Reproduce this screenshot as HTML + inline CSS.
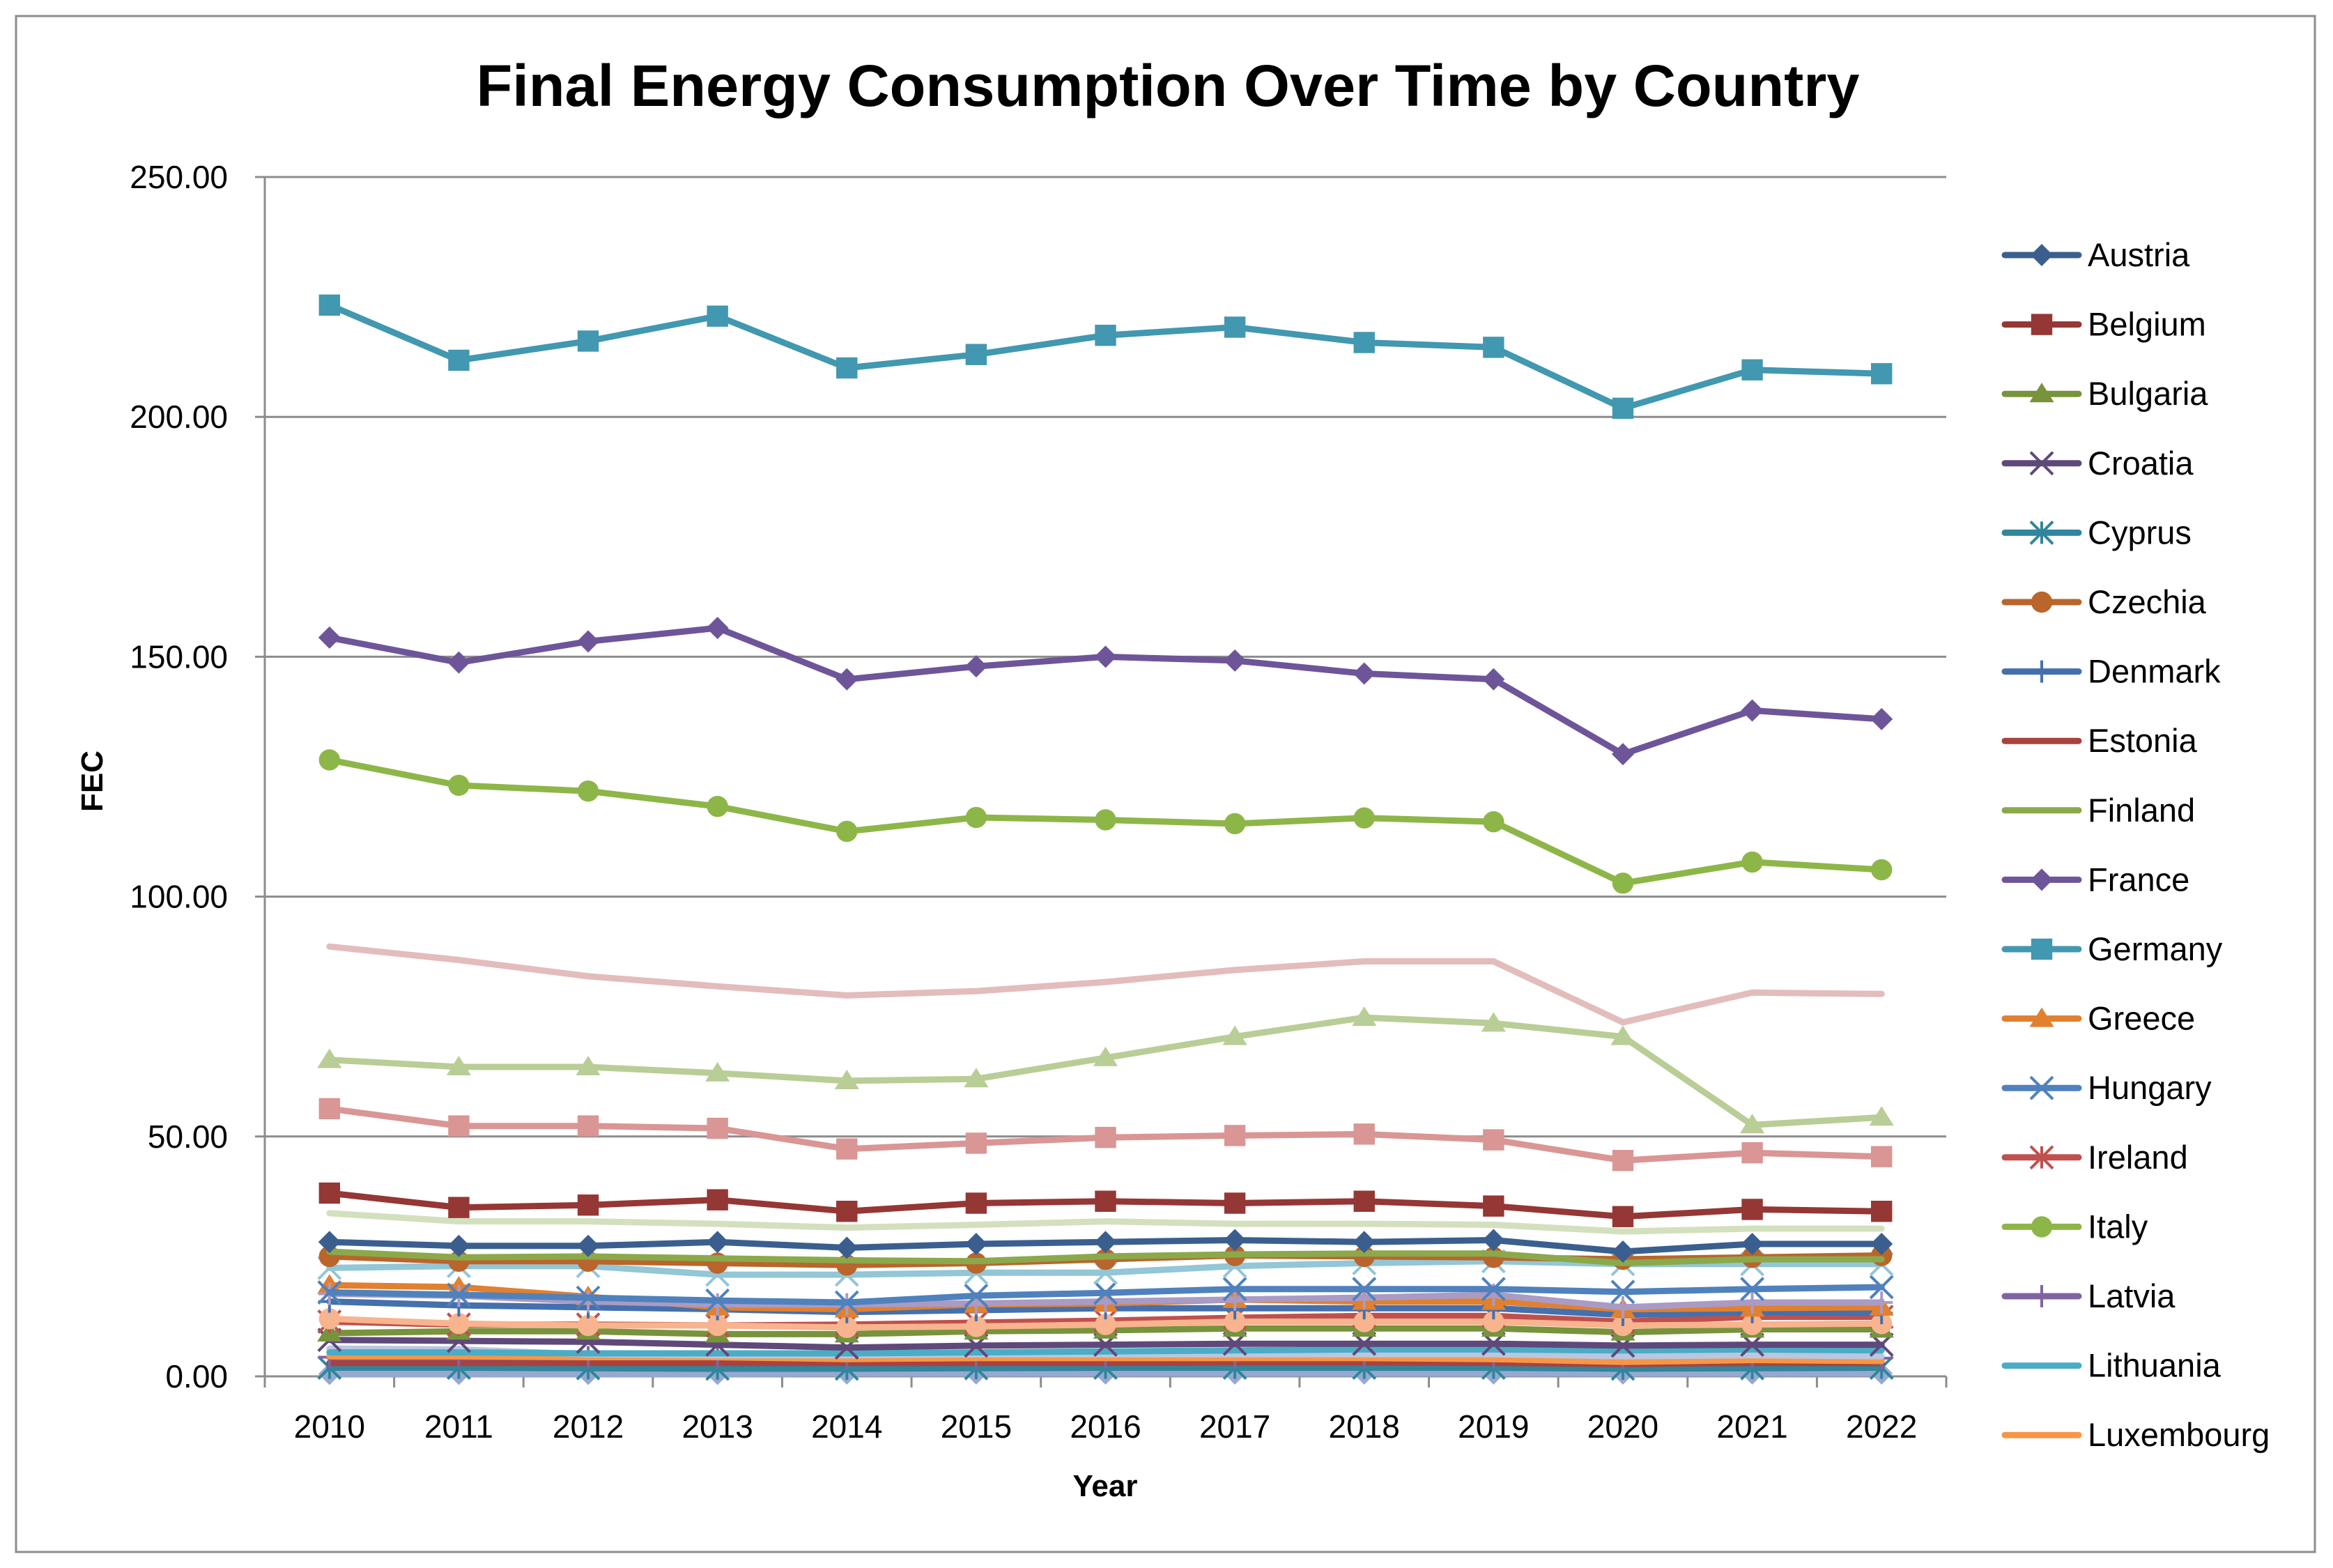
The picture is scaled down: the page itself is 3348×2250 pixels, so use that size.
<!DOCTYPE html>
<html><head><meta charset="utf-8"><style>
html,body{margin:0;padding:0;background:#fff}
svg{display:block}
text{font-family:"Liberation Sans",sans-serif}
</style></head><body>
<svg id="chart" width="3348" height="2250" viewBox="0 0 3348 2250" xmlns="http://www.w3.org/2000/svg">
<rect x="23" y="23" width="3299" height="2204" fill="#fff" stroke="#8c8c8c" stroke-width="3"/>
<text x="1676" y="152" text-anchor="middle" font-size="84" font-weight="bold" textLength="1985" lengthAdjust="spacingAndGlyphs">Final Energy Consumption Over Time by Country</text>
<g id="grid"></g>
<g id="yaxis"></g>
<g id="xaxis"></g>
<g id="series"></g>
<g id="legend"></g>
<text x="1586" y="2147" text-anchor="middle" font-size="44" font-weight="bold">Year</text>
<text transform="translate(147,1121) rotate(-90)" text-anchor="middle" font-size="44" font-weight="bold">FEC</text>
</svg>
<script>
const years = ["2010","2011","2012","2013","2014","2015","2016","2017","2018","2019","2020","2021","2022"];
const yTicks = [0,50,100,150,200,250];
const yTickLabels = ["0.00","50.00","100.00","150.00","200.00","250.00"];
const legendNames = ["Austria","Belgium","Bulgaria","Croatia","Cyprus","Czechia","Denmark","Estonia","Finland","France","Germany","Greece","Hungary","Ireland","Italy","Latvia","Lithuania","Luxembourg"];
const austria = [28,27.2,27.2,28,26.8,27.6,28,28.4,28,28.4,26,27.6,27.6];
const belgium = [38.2,35.2,35.7,36.8,34.4,36.1,36.5,36.1,36.5,35.5,33.3,34.8,34.4];
const bulgaria = [9,9.4,9.4,8.8,8.8,9.4,9.6,10,10,10,9.2,9.8,9.8];
const croatia = [7.6,7.4,7.2,6.6,6,6.4,6.6,6.8,6.8,6.8,6.4,6.6,6.6];
const cyprus = [1.8,1.8,1.7,1.6,1.6,1.7,1.8,1.8,1.8,1.8,1.6,1.7,1.8];
const czechia = [25,24,24,23.6,23.2,23.6,24.4,25.2,25,24.8,24.4,24.8,25.2];
const denmark = [15.6,14.8,14.4,14,13.4,13.8,14.2,14.2,14.2,14.2,12.8,13.4,13.2];
const estonia = [2.8,2.8,2.8,2.8,2.8,2.8,2.8,2.9,2.9,2.8,2.6,2.8,2.8];
const finland = [26,24.8,25,24.6,24.2,24,25,25.4,25.6,25.6,23.6,24.4,24.4];
const france = [154,148.8,153.2,156,145.3,148,150,149.2,146.5,145.3,129.7,138.8,137];
const germany = [223.3,211.8,215.8,221,210.2,213,217,218.7,215.5,214.5,201.8,209.8,209];
const greece = [19,18.6,16.6,14.4,14,15,15.2,16,15.6,15.6,14,14.2,14.4];
const hungary = [17.5,17,16.4,15.8,15.4,16.8,17.4,18.2,18.2,18.2,17.6,18.2,18.6];
const ireland = [11.4,10.8,10.8,10.6,10.8,11.2,11.6,12.2,12.6,12.6,11.4,12.4,12.4];
const italy = [128.5,123.2,122,118.8,113.6,116.5,116,115.2,116.4,115.6,102.8,107.2,105.6];
const latvia = [4,4,4,4,3.8,3.8,4,4,4,4,3.8,4,3.8];
const lithuania = [5,5,4.8,4.8,4.8,5,5.2,5.4,5.6,5.6,5.4,5.6,5.4];
const luxembourg = [4.2,4.2,4,4,3.6,3.8,3.8,3.8,3.8,3.6,3,3.4,3.2];
const malta = [0.5,0.5,0.5,0.5,0.6,0.6,0.6,0.6,0.6,0.6,0.6,0.6,0.6];
const seriesPink = [89.6,86.8,83.4,81.3,79.4,80.3,82.2,84.7,86.5,86.5,73.8,80,79.7];
const seriesLightGreenTri = [66,64.5,64.5,63.2,61.6,62,66.4,70.8,74.8,73.6,70.8,52.4,54];
const seriesPinkSquare = [55.8,52.2,52.2,51.7,47.4,48.6,49.8,50.2,50.5,49.3,45,46.6,45.8];
const seriesPaleGreen = [34,32.3,32.3,31.8,31,31.6,32.3,31.8,31.8,31.6,30.2,30.8,30.8];
const seriesLightBlueX = [22.6,23,23,21.2,21.2,21.6,21.6,23,23.6,24,23.4,23.4,23.4];
const seriesLavender = [17.2,16.8,15.6,15,15,15.2,15.6,16,16.4,17,14.4,15.4,15.4];
const seriesSalmon = [12,11,10.6,10.6,10.2,10.4,10.8,11.4,11.4,11.4,10.6,10.8,11];
const seriesGrayBlue = [5.8,5.6,4.6,4.4,4.4,4.6,4.6,4.6,4.6,4.6,4.2,4.4,4.2];

const PL=380, PR=2793, PT=254, PB=1975, YMAX=250;
const catW=(PR-PL)/years.length;
const xs=i=>PL+catW*(i+0.5);
const ys=v=>PB-(v/YMAX)*(PB-PT);
const NS="http://www.w3.org/2000/svg";
function mk(tag,attrs,parent){const e=document.createElementNS(NS,tag);for(const k in attrs)e.setAttribute(k,attrs[k]);parent.appendChild(e);return e;}

const grid=document.getElementById('grid'), yax=document.getElementById('yaxis'), xax=document.getElementById('xaxis');
yTicks.forEach((t,i)=>{
  const l=mk('line',{x1:PL,x2:PR,y1:ys(t),y2:ys(t),stroke:'#8c8c8c','stroke-width':3},grid);
  
  
  const tk=mk('line',{x1:PL-14,x2:PL,y1:ys(t),y2:ys(t),stroke:'#8c8c8c','stroke-width':3},yax);
  
  
  const tx=mk('text',{x:327,y:ys(t)+16,'text-anchor':'end','font-size':46},yax);
  
  
  tx.textContent=yTickLabels[i];
});
const ya=mk('line',{x1:PL,x2:PL,y1:PT,y2:PB,stroke:'#8c8c8c','stroke-width':3},yax);


for(let i=0;i<=years.length;i++){
  const tk=mk('line',{x1:PL+catW*i,x2:PL+catW*i,y1:PB,y2:PB+16,stroke:'#8c8c8c','stroke-width':3},xax);
  
  
}
years.forEach((y,i)=>{
  const tx=mk('text',{x:xs(i),y:2063,'text-anchor':'middle','font-size':46},xax);
  
  
  tx.textContent=y;
});

function marker(g,type,x,y,c,s){
  let e;
  if(type==='diamond') e=mk('polygon',{points:`${x},${y-s} ${x+s},${y} ${x},${y+s} ${x-s},${y}`,fill:c},g);
  else if(type==='square') e=mk('rect',{x:x-s*0.95,y:y-s*0.95,width:s*1.9,height:s*1.9,fill:c},g);
  else if(type==='triangle') e=mk('polygon',{points:`${x},${y-s} ${x+s*1.1},${y+s*0.75} ${x-s*1.1},${y+s*0.75}`,fill:c},g);
  else if(type==='circle') e=mk('circle',{cx:x,cy:y,r:s*0.95,fill:c},g);
  else if(type==='x') e=mk('path',{d:`M${x-s} ${y-s}L${x+s} ${y+s}M${x-s} ${y+s}L${x+s} ${y-s}`,stroke:c,'stroke-width':4,fill:'none'},g);
  else if(type==='plus') e=mk('path',{d:`M${x-s} ${y}L${x+s} ${y}M${x} ${y-s}L${x} ${y+s}`,stroke:c,'stroke-width':4,fill:'none'},g);
  else if(type==='star') e=mk('path',{d:`M${x-s} ${y-s}L${x+s} ${y+s}M${x-s} ${y+s}L${x+s} ${y-s}M${x} ${y-s}L${x} ${y+s}`,stroke:c,'stroke-width':4,fill:'none'},g);
  if(e){}
}

const seriesList=[
 ['malta',malta,'#95A9D1','diamond'],
 ['cyprus',cyprus,'#31859C','star'],
 ['estonia',estonia,'#A9423F',null],
 ['latvia',latvia,'#8064A2','plus'],
 ['luxembourg',luxembourg,'#F79646',null],
 ['series-gray-blue',seriesGrayBlue,'#B9C7E0',null],
 ['lithuania',lithuania,'#4BACC6',null],
 ['croatia',croatia,'#5F497A','x'],
 ['bulgaria',bulgaria,'#77933C','triangle'],
 ['ireland',ireland,'#C0504D','star'],
 ['series-salmon',seriesSalmon,'#F7B48E','circle'],
 ['denmark',denmark,'#4470AD','plus'],
 ['greece',greece,'#E1802F','triangle'],
 ['series-lavender',seriesLavender,'#A99BC4','plus'],
 ['hungary',hungary,'#4F81BD','x'],
 ['series-light-blue-x',seriesLightBlueX,'#93C6D6','x'],
 ['czechia',czechia,'#B9652C','circle'],
 ['finland',finland,'#8BA94A',null],
 ['austria',austria,'#3A5F8F','diamond'],
 ['series-pale-green',seriesPaleGreen,'#D3E0BD',null],
 ['belgium',belgium,'#953735','square'],
 ['series-pink-square',seriesPinkSquare,'#D99694','square'],
 ['series-light-green-tri',seriesLightGreenTri,'#B9CD96','triangle'],
 ['series-pink',seriesPink,'#E3BCBC',null],
 ['italy',italy,'#8DB648','circle'],
 ['france',france,'#6E5599','diamond'],
 ['germany',germany,'#4198B0','square']
];
const sg=document.getElementById('series');
seriesList.forEach(([name,vals,col,m])=>{
  const g=mk('g',{},sg);
  
  
  const d=vals.map((v,i)=>(i?'L':'M')+xs(i).toFixed(1)+' '+ys(v).toFixed(1)).join('');
  const p=mk('path',{d:d,fill:'none',stroke:col,'stroke-width':9,'stroke-linejoin':'round','stroke-linecap':'round'},g);
  
  
  if(m) vals.forEach((v,i)=>marker(g,m,xs(i),ys(v),col,16));
});

const legendColors=['#3A5F8F','#953735','#77933C','#5F497A','#31859C','#B9652C','#4470AD','#A9423F','#8BA94A','#6E5599','#4198B0','#E1802F','#4F81BD','#C0504D','#8DB648','#8064A2','#4BACC6','#F79646'];
const legendMarkers=['diamond','square','triangle','x','star','circle','plus',null,null,'diamond','square','triangle','x','star','circle','plus',null,null];
const lg=document.getElementById('legend');
legendNames.forEach((n,i)=>{
  const y=366+i*99.6;
  const g=mk('g',{},lg);
  
  
  mk('line',{x1:2877,x2:2983,y1:y,y2:y,stroke:legendColors[i],'stroke-width':9,'stroke-linecap':'round'},g);
  if(legendMarkers[i]) marker(g,legendMarkers[i],2930,y,legendColors[i],16);
  const t=mk('text',{x:2996,y:y+16,'font-size':47},g);
  
  
  t.textContent=n;
});
</script>
</body></html>
